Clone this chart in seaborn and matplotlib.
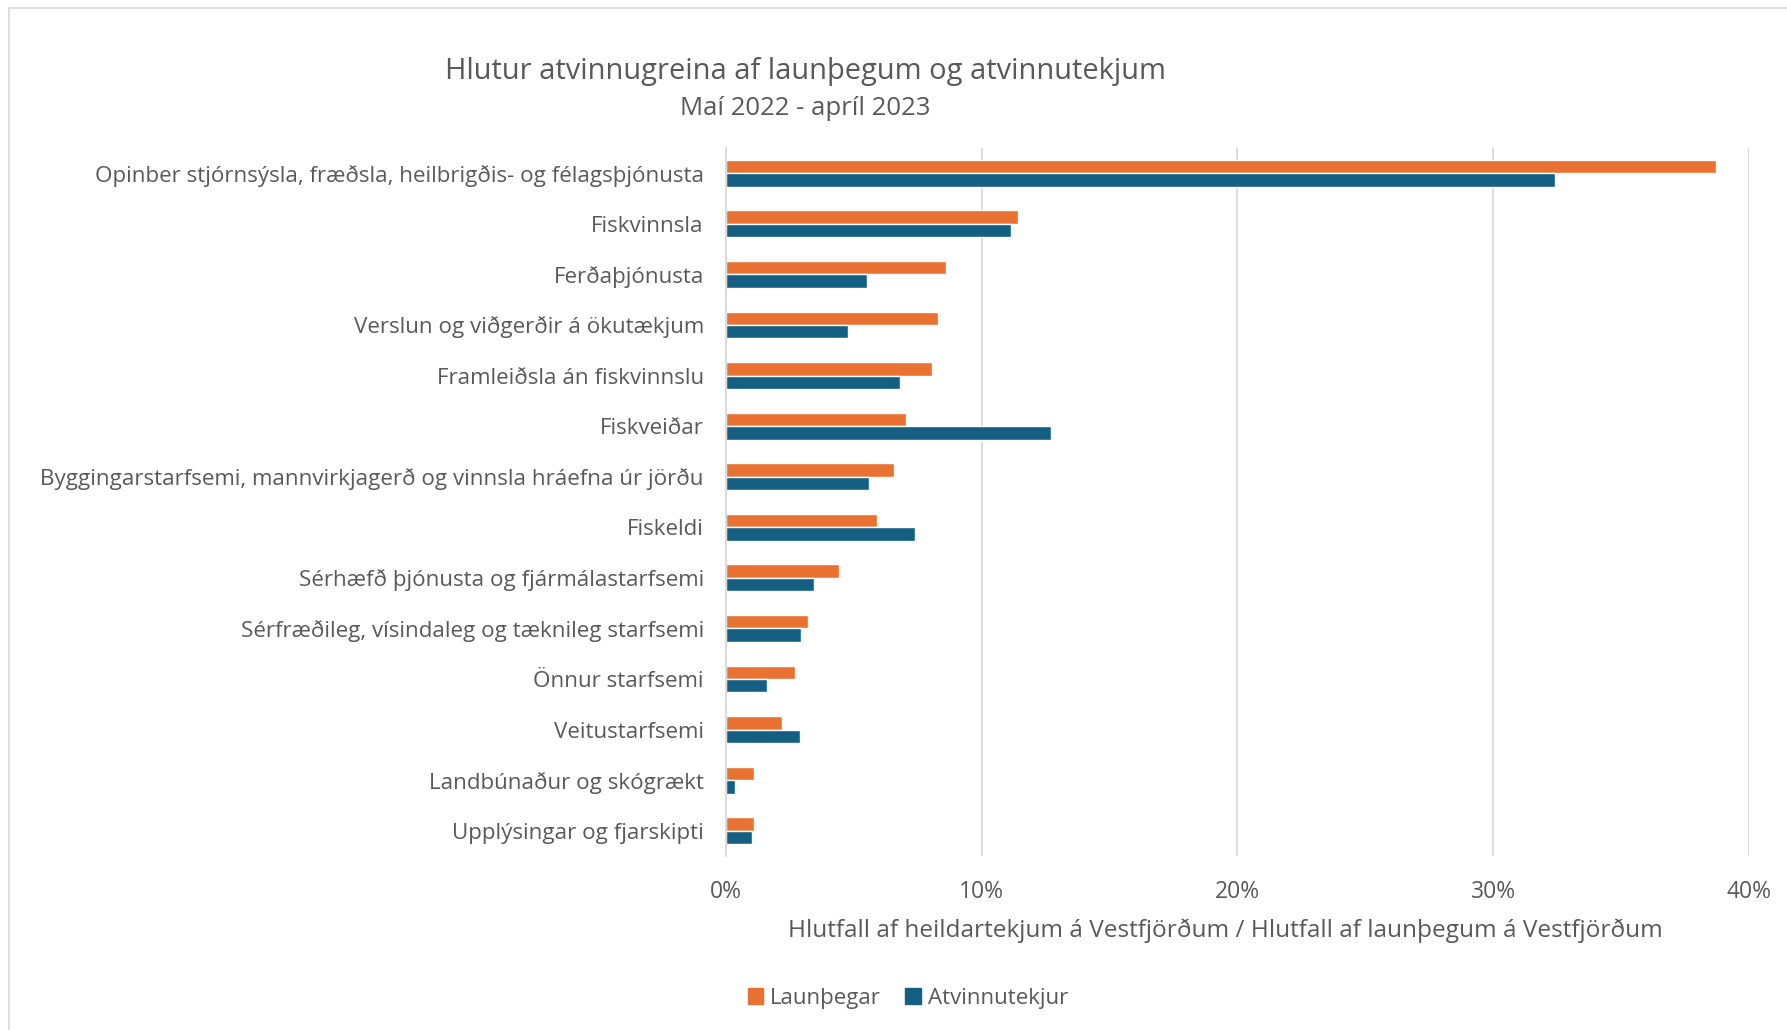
import seaborn as sns
import matplotlib.pyplot as plt
import matplotlib.patches as mpatches
import matplotlib.ticker as mticker
import pandas as pd

# Share of industries in employees and employment income, Westfjords

categories = [
    "Opinber stjórnsýsla, fræðsla, heilbrigðis- og félagsþjónusta",
    "Fiskvinnsla",
    "Ferðaþjónusta",
    "Verslun og viðgerðir á ökutækjum",
    "Framleiðsla án fiskvinnslu",
    "Fiskveiðar",
    "Byggingarstarfsemi, mannvirkjagerð og vinnsla hráefna úr jörðu",
    "Fiskeldi",
    "Sérhæfð þjónusta og fjármálastarfsemi",
    "Sérfræðileg, vísindaleg og tæknileg starfsemi",
    "Önnur starfsemi",
    "Veitustarfsemi",
    "Landbúnaður og skógrækt",
    "Upplýsingar og fjarskipti",
]
launthegar = [38.7, 11.4, 8.6, 8.3, 8.05, 7.05, 6.55, 5.9, 4.4, 3.2, 2.7, 2.2, 1.1, 1.1]
atvinnutekjur = [32.4, 11.15, 5.5, 4.75, 6.8, 12.7, 5.6, 7.4, 3.45, 2.95, 1.6, 2.9, 0.35, 1.0]
series = ["Launþegar", "Atvinnutekjur"]

df = pd.DataFrame({
    "grein": categories * 2,
    "hlutfall": launthegar + atvinnutekjur,
    "series": [series[0]] * len(categories) + [series[1]] * len(categories),
})

text_color = "#595959"
grid_color = "#D9D9D9"
palette = {"Launþegar": "#E97132", "Atvinnutekjur": "#156082"}

sns.set_theme(style="white")
plt.rcParams["font.family"] = ["Open Sans", "DejaVu Sans"]
plt.rcParams["text.color"] = text_color

fig = plt.figure(figsize=(17.87, 10.30), dpi=100)
ax = fig.add_axes([0.4063, 0.1689, 0.5724, 0.6874])

sns.barplot(
    data=df, y="grein", x="hlutfall", hue="series", order=categories,
    hue_order=series, palette=palette, width=0.53, gap=0, ax=ax,
    legend=False, saturation=1,
)

ax.set_xlim(0, 40)
ax.xaxis.set_major_locator(mticker.MultipleLocator(10))
ax.xaxis.set_major_formatter(mticker.FuncFormatter(lambda v, p: f"{v:.0f}%"))
ax.grid(axis="x", color=grid_color, linewidth=1.3)
ax.set_axisbelow(True)
for side in ["top", "right", "bottom"]:
    ax.spines[side].set_visible(False)
ax.spines["left"].set_color(grid_color)
ax.spines["left"].set_linewidth(1.3)
ax.tick_params(axis="x", length=0, pad=17, labelsize=16.5, labelcolor=text_color)
ax.tick_params(axis="y", length=0, pad=16, labelsize=16.1, labelcolor=text_color)
ax.set_xlabel("")
ax.set_ylabel("")

fig.text(0.6855, 0.0961, "Hlutfall af heildartekjum á Vestfjörðum / Hlutfall af launþegum á Vestfjörðum",
         ha="center", va="center", fontsize=17.6, color=text_color)
fig.text(0.4505, 0.931, "Hlutur atvinnugreina af launþegum og atvinnutekjum",
         ha="center", va="center", fontsize=20.9, color=text_color)
fig.text(0.4505, 0.895, "Maí 2022 - apríl 2023",
         ha="center", va="center", fontsize=18.5, color=text_color)

handles = [mpatches.Patch(color=palette[s], label=s) for s in series]
fig.legend(handles=handles, loc="center", bbox_to_anchor=(0.508, 0.031), ncol=2,
           frameon=False, fontsize=16, handlelength=0.7, handleheight=0.7,
           handletextpad=0.3, columnspacing=1.1, labelcolor=text_color)

# light chart-area border
fig.patches.append(mpatches.Rectangle((0.005, -0.1), 1.2, 1.092, transform=fig.transFigure,
                                      fill=False, edgecolor=grid_color, linewidth=1.2))

fig.savefig("out.png", dpi=100)
